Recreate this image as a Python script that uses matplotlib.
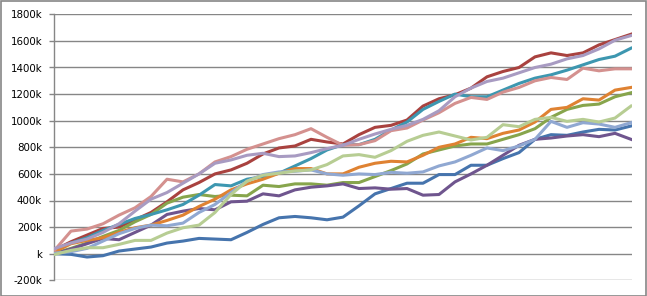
import matplotlib
matplotlib.use("Agg")
import matplotlib.pyplot as plt
from matplotlib.ticker import FuncFormatter, MultipleLocator
from matplotlib.patches import Rectangle

# sample positions along the x axis (no labels on this axis)
steps = list(range(37))

# series values in thousands
blue = [0, -5, -25, -15, 20, 35, 50, 80, 95, 115, 110, 105, 160, 220, 270, 280, 270, 255, 275, 360,
        450, 490, 530, 530, 595, 595, 665, 665, 715, 760, 860, 895, 890, 915, 935, 930, 960]
red = [30, 90, 140, 190, 200, 255, 310, 390, 480, 535, 600, 630, 680, 750, 795, 810, 860, 840, 825, 895,
       950, 965, 1005, 1110, 1165, 1195, 1245, 1330, 1370, 1400, 1480, 1510, 1490, 1510, 1570, 1610, 1650]
green = [5, 40, 80, 130, 175, 240, 295, 380, 425, 445, 430, 440, 435, 515, 505, 525, 525, 515, 535, 535,
         580, 625, 675, 750, 780, 810, 825, 825, 860, 895, 940, 1025, 1085, 1115, 1125, 1180, 1210]
purple = [0, 35, 75, 115, 105, 160, 215, 295, 320, 340, 330, 390, 395, 450, 435, 480, 500, 510, 525, 490,
          495, 485, 490, 440, 445, 540, 600, 665, 740, 815, 860, 870, 885, 895, 880, 905, 860]
teal = [20, 80, 120, 175, 220, 265, 295, 330, 370, 440, 520, 510, 560, 580, 605, 660, 715, 780, 820, 820,
        860, 930, 990, 1085, 1145, 1200, 1180, 1180, 1230, 1280, 1320, 1345, 1380, 1420, 1460, 1485, 1545]
orange = [15, 75, 100, 120, 160, 195, 215, 250, 290, 355, 410, 480, 525, 560, 605, 640, 640, 600, 600, 650,
          680, 695, 690, 740, 800, 825, 875, 865, 905, 930, 990, 1085, 1100, 1165, 1155, 1230, 1250]
light_blue = [5, 15, 40, 95, 150, 190, 215, 210, 230, 310, 370, 460, 545, 595, 615, 620, 630, 600, 590, 600,
              595, 612, 605, 615, 660, 690, 740, 795, 775, 810, 860, 995, 950, 985, 975, 950, 985]
light_red = [30, 170, 185, 225, 290, 345, 430, 560, 540, 600, 690, 730, 785, 825, 865, 895, 940, 875, 815, 820,
             850, 925, 945, 1005, 1060, 1130, 1175, 1160, 1215, 1250, 1300, 1325, 1310, 1395, 1375, 1390, 1390]
light_green = [-5, 25, 45, 45, 70, 100, 100, 155, 195, 215, 310, 445, 545, 590, 605, 622, 630, 670, 735, 745,
               725, 775, 845, 890, 915, 885, 855, 875, 970, 955, 1010, 1025, 995, 1010, 990, 1020, 1110]
light_purple = [40, 80, 110, 160, 225, 320, 410, 460, 530, 600, 680, 705, 740, 755, 730, 735, 760, 790, 815, 860,
                900, 935, 965, 1010, 1075, 1180, 1245, 1295, 1320, 1360, 1400, 1425, 1465, 1490, 1540, 1605, 1640]

series = [
    (blue, "#4674ad"),
    (red, "#a9423f"),
    (green, "#87a54c"),
    (purple, "#6f558e"),
    (teal, "#3d97b0"),
    (orange, "#df8232"),
    (light_blue, "#90a8d2"),
    (light_red, "#d4918f"),
    (light_green, "#b7cd93"),
    (light_purple, "#a89bc2"),
]

fig = plt.figure(figsize=(6.47, 2.96), dpi=100)
ax = fig.add_axes([54 / 647, 1 - 280.3 / 296, (632 - 54) / 647, (280.3 - 14.3) / 296])

for values, color in series:
    ax.plot(steps, values, color=color, linewidth=2.2, solid_joinstyle="round", zorder=3)

ax.set_xlim(-0.0625, 36.0625)
ax.set_ylim(-200, 1800)
ax.yaxis.set_major_locator(MultipleLocator(200))
ax.yaxis.set_major_formatter(FuncFormatter(lambda v, _: "k" if v == 0 else f"{v:.0f}k"))
ax.set_xticks([])

# gray horizontal gridlines, only the left axis line kept
ax.grid(axis="y", color="#868686", linewidth=1.0, zorder=1)
for side in ["top", "right", "bottom"]:
    ax.spines[side].set_visible(False)
ax.spines["left"].set_color("#868686")
ax.spines["left"].set_linewidth(1.0)
ax.tick_params(axis="y", direction="out", length=3.6, width=1.0, color="#868686",
               pad=5, labelsize=7.4, labelcolor="#000000")

# outer chart border
fig.patches.append(Rectangle((0.5 / 647, 0.5 / 296), 645.5 / 647, 294.5 / 296,
                             transform=fig.transFigure, fill=False,
                             edgecolor="#868686", linewidth=1.2))

fig.savefig("out.png", dpi=100)
